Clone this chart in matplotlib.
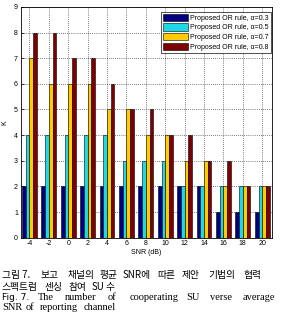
import numpy as np
import matplotlib
matplotlib.use('Agg')
from matplotlib import pyplot as plt

snr = [-4, -2, 0, 2, 4, 6, 8, 10, 12, 14, 16, 18, 20]
k_03 = [2, 2, 2, 2, 2, 2, 2, 2, 2, 2, 1, 1, 1]
k_05 = [4, 4, 4, 4, 4, 3, 3, 3, 2, 2, 2, 2, 2]
k_07 = [7, 6, 6, 6, 5, 5, 4, 4, 3, 3, 2, 2, 2]
k_08 = [8, 8, 7, 7, 6, 5, 5, 4, 4, 3, 3, 2, 2]
labels = ['Proposed OR rule, α=0.3', 'Proposed OR rule, α=0.5',
          'Proposed OR rule, α=0.7', 'Proposed OR rule, α=0.8']
colors = ['#00007f', '#1ed8e8', '#ffcc00', '#7f0000']

plt.rcParams['font.family'] = ['Liberation Sans', 'DejaVu Sans']
plt.rcParams['axes.unicode_minus'] = False

fig = plt.figure(figsize=(2.81, 3.14), dpi=100)
ax = fig.add_axes([0.0737, 0.243, 0.894, 0.735])

x = np.array(snr)
w = 0.38
series = [k_03, k_05, k_07, k_08]
for i, vals in enumerate(series):
    ax.bar(x + (i - 1.5) * w, vals, width=w, color=colors[i],
           edgecolor='black', linewidth=0.4, label=labels[i], zorder=3)

ax.set_xlim(-4.9, 21.0)
ax.set_ylim(0, 9)
ax.set_xticks(snr)
ax.set_yticks(range(0, 10))
ax.tick_params(direction='in', labelsize=5, length=2, width=0.5, pad=2)
ax.grid(True, linestyle=(0, (1, 2)), color='black', linewidth=0.5, zorder=0)
for s in ax.spines.values():
    s.set_linewidth(0.6)
ax.set_xlabel('SNR (dB)', fontsize=5, labelpad=1)
ax.set_ylabel('K', fontsize=5, labelpad=4)

leg = ax.legend(loc='upper right', bbox_to_anchor=(1.0, 0.985), fontsize=5,
                frameon=True, fancybox=False, edgecolor='black',
                handlelength=3.6, handleheight=1.2, borderpad=0.3,
                labelspacing=0.25, handletextpad=0.3, borderaxespad=0.2)
leg.get_frame().set_linewidth(0.6)
leg.set_zorder(5)

kr = ['Noto Sans CJK KR', 'DejaVu Sans']
serif = ['Liberation Serif', 'DejaVu Serif']

def line(words, y, fam, size=7):
    for wx, t in words:
        fig.text(wx / 281, 1 - y / 314, t, family=fam, fontsize=size,
                 va='center', ha='left')

line([(2, '그림 7.'), (40, '보고'), (68, '채널의'), (100, '평균'), (123, 'SNR에'),
      (157, '따른'), (182, '제안'), (208, '기법의'), (243, '협력')], 275, kr)
line([(2, '스펙트럼'), (45, '센싱'), (68, '참여'), (92, 'SU'), (106, '수')], 287, kr)
line([(2, 'Fig. 7.')], 298, ['DejaVu Sans', 'Liberation Sans'], 6.5)
line([(38, 'The'), (65, 'number'), (108, 'of'), (130, 'cooperating'), (186, 'SU'),
      (210, 'verse'), (243, 'average')], 298, serif, 7.5)
line([(2, 'SNR'), (26, 'of'), (40, 'reporting'), (84, 'channel')], 308, serif, 7.5)

fig.savefig('out.png', dpi=100)
